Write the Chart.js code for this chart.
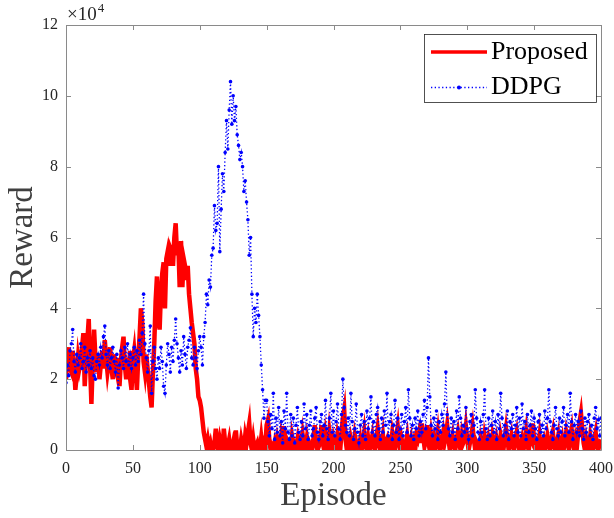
<!DOCTYPE html>
<html lang="en">
<head>
<meta charset="UTF-8">
<title>Reward vs Episode</title>
<script src="https://cdn.jsdelivr.net/npm/chart.js"></script>
<style>
  body { margin: 0; background: #fff; }
  canvas { display: block; }
</style>
</head>
<body>
<canvas id="rewardChart" width="614" height="518"></canvas>
<script>
// reward values in units of 10^4, one per episode (0..400)
const proposed = [
  2.0, 2.6, 2.9, 2.3, 2.2, 2.8, 2.4, 1.7, 2.1, 2.6,
  2.3, 2.5, 2.9, 3.3, 1.8, 2.6, 3.1, 3.7, 2.4, 1.3,
  2.5, 3.4, 2.6, 2.2, 2.7, 2.0, 2.4, 2.8, 2.3, 3.1,
  2.6, 2.2, 2.5, 2.9, 2.3, 2.0, 2.7, 2.4, 2.2, 2.6,
  1.8, 2.5, 2.9, 3.2, 2.4, 2.0, 2.6, 2.3, 2.8, 1.7,
  2.5, 2.8, 2.3, 1.7, 2.6, 3.2, 4.0, 3.6, 2.5, 2.2,
  2.7, 2.3, 1.9, 1.5, 1.2, 2.2, 3.0, 4.2, 4.9, 3.7,
  3.4, 4.5, 5.0, 5.3, 4.0, 5.4, 5.6, 5.2, 5.7, 5.6,
  5.2, 6.0, 6.4, 5.5, 5.8, 4.6, 5.9, 4.6, 5.4, 5.2,
  4.8, 5.2, 4.4, 4.0, 3.6, 3.3, 3.0, 2.3, 2.0, 1.5,
  1.4, 1.2, 0.85, 0.5, 0.3, 0.1, 0.3, 0.05, 0.2, 0.0,
  0.0, 0.2, 0.6, 0.1, 0.0, 0.3, 0.1, 0.0, 0.6, 0.2,
  0.0, 0.1, 0.3, 0.0, 0.0, 0.2, 0.0, 0.55, 0.1, 0.0,
  0.0, 0.3, 0.1, 0.0, 0.4, 0.2, 0.5, 0.75, 0.2, 0.0,
  0.3, 0.0, 0.1, 0.2, 0.0, 0.0, 0.35, 0.0, 0.2, 0.1,
  0.7, 0.85, 0.3, 0.0, 0.1, 0.0, 0.2, 0.0, 0.3, 0.1,
  0.0, 0.4, 0.2, 0.67, 0.3, 0.0, 0.2, 0.1, 0.0, 0.4,
  0.2, 0.0, 0.1, 0.3, 0.0, 0.2, 0.0, 0.4, 0.1, 0.0,
  0.3, 0.0, 0.2, 0.1, 0.0, 0.3, 0.7, 0.2, 0.0, 0.1,
  0.3, 0.7, 0.2, 0.0, 0.4, 0.1, 0.0, 0.5, 0.2, 0.0,
  0.3, 0.1, 0.0, 0.4, 0.2, 0.0, 0.5, 0.9, 1.13, 0.3,
  0.0, 0.2, 0.0, 0.3, 0.1, 0.0, 0.4, 0.2, 0.0, 0.1,
  0.3, 0.0, 0.2, 0.5, 0.1, 0.0, 0.3, 0.0, 0.2, 0.4,
  0.1, 0.0, 0.3, 0.6, 0.2, 0.0, 0.1, 0.4, 0.0, 0.2,
  0.3, 0.0, 0.2, 0.1, 0.5, 0.3, 0.0, 0.4, 0.66, 0.2,
  0.0, 0.3, 0.1, 0.0, 0.2, 0.4, 0.0, 0.1, 0.3, 0.0,
  0.2, 0.0, 0.4, 0.3, 0.5, 0.2, 0.75, 0.4, 0.1, 0.3,
  0.7, 0.2, 0.0, 0.4, 0.1, 0.3, 0.0, 0.2, 0.5, 0.1,
  0.0, 0.3, 0.5, 0.2, 0.4, 0.7, 0.3, 0.0, 0.2, 0.4,
  0.1, 0.0, 0.3, 0.5, 0.2, 0.0, 0.4, 0.2, 0.3, 0.66,
  0.3, 0.0, 0.2, 0.4, 0.66, 0.3, 0.0, 0.2, 0.1, 0.0,
  0.3, 0.1, 0.0, 0.4, 0.2, 0.0, 0.3, 0.1, 0.0, 0.4,
  0.2, 0.0, 0.3, 0.1, 0.0, 0.4, 0.2, 0.0, 0.3, 0.6,
  0.3, 0.0, 0.2, 0.4, 0.1, 0.0, 0.3, 0.5, 0.2, 0.0,
  0.1, 0.3, 0.0, 0.2, 0.5, 0.1, 0.0, 0.4, 0.3, 0.75,
  0.3, 0.0, 0.2, 0.1, 0.4, 0.0, 0.2, 0.3, 0.0, 0.1,
  0.4, 0.2, 0.0, 0.3, 0.5, 0.1, 0.0, 0.2, 0.4, 0.0,
  0.1, 0.3, 0.0, 0.2, 0.5, 0.3, 0.0, 0.4, 0.6, 0.2,
  0.0, 0.3, 0.1, 0.5, 0.8, 1.04, 0.6, 0.2, 0.0, 0.3,
  0.1, 0.0, 0.4, 0.2, 0.0, 0.3, 0.5, 0.1, 0.0, 0.2,
  0.3
];

const ddpg = [
  1.9, 2.4, 2.1, 2.8, 3.0, 3.4, 2.5, 2.2, 2.7, 2.4,
  2.6, 3.0, 2.3, 2.5, 2.9, 2.2, 2.6, 2.4, 2.8, 2.3,
  2.6, 2.1, 2.0, 2.5, 2.7, 2.4, 2.9, 2.6, 3.2, 3.5,
  2.7, 2.4, 2.8, 2.3, 2.6, 2.9, 2.5, 2.2, 2.7, 1.75,
  2.4, 2.8, 2.6, 2.3, 2.9, 2.5, 3.0, 2.4, 2.7, 2.3,
  2.6, 2.9, 2.4, 2.8, 2.5, 3.1, 2.7, 3.3, 4.4, 3.0,
  2.6, 2.2, 2.8, 3.5, 1.6, 2.5, 2.9, 2.3, 2.0, 2.6,
  2.3, 2.9, 2.5, 1.8, 1.6, 2.4, 3.0, 2.7, 2.2, 2.9,
  2.5, 3.1, 3.7, 3.0, 2.6, 2.2, 2.8, 2.4, 3.2, 2.7,
  2.3, 2.9, 3.1, 3.45, 2.6, 2.4, 2.9, 2.6, 2.3, 2.8,
  3.2, 2.9, 2.4, 3.2, 3.6, 4.4, 4.1, 4.8, 4.6, 5.5,
  5.7, 6.9, 6.2, 6.4, 8.0, 5.6, 6.8, 7.8, 7.3, 8.4,
  9.3, 8.5, 9.6, 10.4, 9.2, 10.0, 9.3, 9.7, 8.9, 8.6,
  8.2, 8.4, 8.0, 7.3, 7.6, 7.0, 6.5, 5.5, 6.0, 4.4,
  3.2, 4.0, 3.6, 4.4, 3.8, 3.2, 2.4, 1.7, 0.9, 1.4,
  1.4, 0.8, 0.4, 1.0, 0.6, 1.6, 0.3, 0.9, 0.5, 1.2,
  0.4, 0.8, 0.2, 1.1, 0.6, 1.6, 0.5, 0.3, 1.0, 0.4,
  0.9, 0.2, 0.7, 1.2, 0.5, 0.3, 0.8, 0.4, 1.3, 0.6,
  1.0, 0.3, 0.7, 1.1, 0.4, 0.6, 0.9, 1.2, 0.5, 0.3,
  0.8, 1.0, 0.4, 0.7, 1.4, 0.6, 0.3, 0.9, 1.6, 0.5,
  1.1, 0.4, 0.8, 1.3, 0.6, 0.3, 1.0, 2.0, 1.2, 0.7,
  0.5, 0.9, 0.4, 1.6, 0.8, 0.3, 0.6, 1.3, 0.5, 0.2,
  0.7, 1.0, 0.4, 0.8, 0.3, 1.1, 0.6, 0.9, 1.5, 0.5,
  0.8, 0.4, 1.0, 1.2, 0.6, 0.3, 0.9, 0.5, 1.1, 0.7,
  1.6, 0.4, 0.8, 1.0, 0.3, 0.7, 1.4, 0.5, 0.9, 0.3,
  0.6, 1.0, 0.4, 0.8, 1.2, 0.5, 1.7, 0.9, 0.4, 0.7,
  0.3, 0.9, 0.6, 1.1, 0.4, 0.8, 0.5, 1.0, 1.4, 0.6,
  1.2, 2.6, 1.5, 0.7, 0.4, 0.9, 0.6, 1.1, 0.3, 0.8,
  0.5, 1.0, 0.7, 1.3, 2.2, 1.0, 0.6, 0.4, 0.9, 0.5,
  0.8, 0.3, 1.1, 0.6, 1.5, 0.9, 0.4, 0.7, 0.5, 1.2,
  0.6, 0.3, 0.8, 1.0, 0.4, 0.7, 1.7, 0.9, 0.5, 0.3,
  0.8, 0.5, 1.0, 1.7, 0.6, 0.3, 0.9, 0.4, 0.7, 1.1,
  0.5, 0.8, 0.3, 1.0, 0.6, 1.6, 0.9, 0.4, 0.7, 0.5,
  1.1, 0.3, 0.8, 0.6, 1.0, 0.4, 0.7, 1.2, 0.5, 0.9,
  0.4, 1.3, 0.6, 0.8, 0.3, 1.0, 0.5, 0.7, 1.1, 0.4,
  0.9, 0.6, 0.3, 0.8, 1.0, 0.5, 0.7, 0.4, 1.1, 0.6,
  0.9, 1.7, 0.8, 0.5, 0.3, 0.7, 1.2, 0.6, 0.4, 0.9,
  0.5, 0.8, 1.2, 0.4, 0.7, 1.0, 0.5, 1.6, 0.8, 0.3,
  0.7, 1.0, 0.5, 0.8, 0.4, 1.1, 0.6, 0.3, 0.9, 0.5,
  0.8, 1.0, 0.4, 0.7, 0.3, 0.9, 1.2, 0.6, 0.85, 0.4,
  0.9
];

const seriesNames = ['Proposed', 'DDPG'];
const xTicks = [0, 50, 100, 150, 200, 250, 300, 350, 400];
const yTicks = [0, 2, 4, 6, 8, 10, 12];

const serif = "'Liberation Serif', 'Times New Roman', serif";
const axisGray = '#8a8a8a';
const textColor = '#262626';

function toPoints(arr) {
  return arr.map(function (v, i) { return { x: i, y: v }; });
}

// box, inward ticks on all sides, the x10^4 exponent and the legend
const matlabFrame = {
  id: 'matlabFrame',
  afterDatasetsDraw(chart) {
    const ctx = chart.ctx;
    const a = chart.chartArea;
    const xs = chart.scales.x;
    const ys = chart.scales.y;
    const tl = 5;
    ctx.save();
    ctx.strokeStyle = axisGray;
    ctx.lineWidth = 1;
    ctx.beginPath();
    ctx.rect(a.left + 0.5, a.top + 0.5, a.right - a.left, a.bottom - a.top);
    xTicks.forEach(function (t) {
      const px = Math.round(xs.getPixelForValue(t)) + 0.5;
      ctx.moveTo(px, a.bottom); ctx.lineTo(px, a.bottom - tl);
      ctx.moveTo(px, a.top); ctx.lineTo(px, a.top + tl);
    });
    yTicks.forEach(function (t) {
      const py = Math.round(ys.getPixelForValue(t)) + 0.5;
      ctx.moveTo(a.left, py); ctx.lineTo(a.left + tl, py);
      ctx.moveTo(a.right, py); ctx.lineTo(a.right - tl, py);
    });
    ctx.stroke();

    // exponent label
    ctx.fillStyle = textColor;
    ctx.textBaseline = 'alphabetic';
    ctx.textAlign = 'left';
    ctx.font = '19px ' + serif;
    ctx.fillText('\u00d710', a.left + 1, a.top - 5);
    const w = ctx.measureText('\u00d710').width;
    ctx.font = '13px ' + serif;
    ctx.fillText('4', a.left + 2 + w, a.top - 13);

    // legend
    const lx = 424, ly = 34, lw = 172, lh = 68;
    ctx.fillStyle = '#ffffff';
    ctx.fillRect(lx, ly, lw, lh);
    ctx.strokeStyle = '#262626';
    ctx.lineWidth = 0.8;
    ctx.strokeRect(lx + 0.5, ly + 0.5, lw, lh);

    const ds = chart.data.datasets;
    // proposed sample
    ctx.strokeStyle = ds[0].borderColor;
    ctx.lineWidth = 3.5;
    ctx.setLineDash([]);
    ctx.beginPath();
    ctx.moveTo(431, 52); ctx.lineTo(487, 52);
    ctx.stroke();
    // ddpg sample
    ctx.strokeStyle = ds[1].borderColor;
    ctx.lineWidth = 1.3;
    ctx.setLineDash([1.3, 2.4]);
    ctx.beginPath();
    ctx.moveTo(431, 87.5); ctx.lineTo(487, 87.5);
    ctx.stroke();
    ctx.setLineDash([]);
    ctx.fillStyle = ds[1].borderColor;
    ctx.beginPath();
    ctx.arc(459, 87.5, 2, 0, Math.PI * 2);
    ctx.fill();

    ctx.fillStyle = '#000000';
    ctx.font = '26px ' + serif;
    ctx.textBaseline = 'middle';
    ctx.fillText(ds[0].label, 491, 52);
    ctx.fillText(ds[1].label, 491, 87);
    ctx.restore();
  }
};

new Chart(document.getElementById('rewardChart'), {
  type: 'line',
  data: {
    datasets: [
      {
        label: seriesNames[0],
        data: toPoints(proposed),
        borderColor: '#ff0000',
        backgroundColor: '#ff0000',
        borderWidth: 4.5,
        pointRadius: 0,
        tension: 0,
        order: 2
      },
      {
        label: seriesNames[1],
        data: toPoints(ddpg),
        borderColor: '#0000ff',
        backgroundColor: '#0000ff',
        borderWidth: 1.3,
        borderDash: [1.3, 2.4],
        pointRadius: 1.8,
        pointBorderWidth: 0,
        pointBackgroundColor: '#0000ff',
        tension: 0,
        order: 1
      }
    ]
  },
  options: {
    responsive: false,
    animation: false,
    layout: { padding: { left: 0, top: 25, right: 2, bottom: 0 } },
    plugins: {
      legend: { display: false },
      tooltip: { enabled: false }
    },
    scales: {
      x: {
        type: 'linear',
        min: 0,
        max: 400,
        afterBuildTicks(scale) { scale.ticks = xTicks.map(function (v) { return { value: v }; }); },
        afterFit(scale) { scale.height = 68; },
        ticks: {
          font: { family: serif, size: 16 },
          color: textColor,
          padding: 1,
          maxRotation: 0
        },
        grid: { display: false },
        border: { display: false },
        title: {
          display: true,
          text: 'Episode',
          font: { family: serif, size: 33 },
          color: '#404040',
          padding: { top: 0, bottom: 2 }
        }
      },
      y: {
        min: 0,
        max: 12,
        afterBuildTicks(scale) { scale.ticks = yTicks.map(function (v) { return { value: v }; }); },
        afterFit(scale) { scale.width = 66; },
        ticks: {
          font: { family: serif, size: 16 },
          color: textColor,
          padding: 0
        },
        grid: { display: false },
        border: { display: false },
        title: {
          display: true,
          text: 'Reward',
          font: { family: serif, size: 33 },
          color: '#404040',
          padding: { top: 4, bottom: 0 }
        }
      }
    }
  },
  plugins: [matlabFrame]
});
</script>
</body>
</html>
